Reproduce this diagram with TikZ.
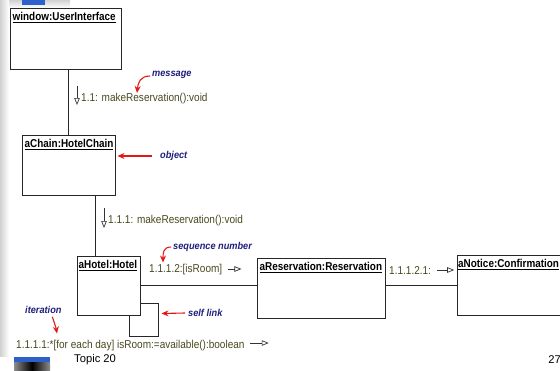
\documentclass[tikz,border=0pt]{standalone}
\usepackage{fontspec}
\setmainfont{Liberation Sans}
\newfontfamily\umlfont[FakeStretch=0.88]{Liberation Sans}
\newfontfamily\titlefont[FakeStretch=0.87]{Liberation Sans}
\newfontfamily\notefont[FakeStretch=0.92]{Liberation Sans}
\usetikzlibrary{calc, arrows.meta, positioning}
\definecolor{msgolive}{RGB}{72,72,30}
\definecolor{notenavy}{RGB}{30,30,125}
\definecolor{notered}{RGB}{225,25,25}
\definecolor{slideblue}{RGB}{45,95,205}

\tikzset{
  objbox/.style={draw=black!85, line width=1pt, fill=white, inner sep=0pt, minimum height=60pt},
  objname/.style={anchor=north west, inner sep=0pt, font=\titlefont\bfseries\fontsize{11.4}{13}\selectfont},
  msgtext/.style={anchor=west, inner sep=0pt, text=msgolive, font=\umlfont\fontsize{11.4}{13}\selectfont},
  msgarrow/.style={draw=black!80, line width=0.7pt, -{Triangle[open, length=7pt, width=5.5pt]}},
  notetext/.style={anchor=west, inner sep=0pt, text=notenavy, font=\notefont\bfseries\itshape\fontsize{10}{12}\selectfont},
  notearrow/.style={draw=notered, line width=1.1pt, -{Stealth[length=7pt, width=6pt]}},
  link/.style={draw=black!85, line width=1pt}
}

\begin{document}
\begin{tikzpicture}[x=1pt, y=-1pt]
    \useasboundingbox (0,0) rectangle (560,370);
    \clip (0,0) rectangle (560,370);
    \shade[top color=black!18, bottom color=white] (0,0) rectangle (70,8);
    \shade[left color=black!18, right color=white] (0,0) rectangle (9,356);
    \fill[slideblue] (22,0) rectangle (45,5);
    \fill[slideblue] (14,357) rectangle (50,362);
    \shade[left color=black!45, right color=black!45, middle color=black] (14,362) rectangle (50,370);

    \node[objbox, minimum width=111pt, minimum height=61pt] (window) at (65.5,38.5) {};
    \node[objname] (windowname) at ($(window.north west)+(3,5)$) {\underline{window:UserInterface}};

    \node[objbox, minimum width=93pt] (chain) at (68.5,165) {};
    \node[objname] (chainname) at ($(chain.north west)+(3,5)$) {\underline{aChain:HotelChain}};

    \node[objbox, minimum width=63pt, minimum height=59pt] (hotel) at (108.5,285.5) {};
    \node[objname] (hotelname) at ($(hotel.north west)+(2,5)$) {\underline{aHotel:Hotel}};

    \node[objbox, minimum width=128pt] (reservation) at (321,288) {};
    \node[objname] (reservationname) at ($(reservation.north west)+(3,5)$) {\underline{aReservation:Reservation}};

    \node[objbox, minimum width=118pt] (notice) at (516,285) {};
    \node[objname] (noticename) at ($(notice.north west)+(1.5,5)$) {\underline{aNotice:Confirmation}};

    \coordinate (drop) at (95,0);
    \draw[link] (window.south -| chain.north) -- (chain.north);
    \draw[link] (chain.south -| drop) -- (hotel.north -| drop);
    \draw[link] (hotel.east) -- (reservation.west |- hotel.east);
    \draw[link] (reservation.east |- notice.west) -- (notice.west);
    \draw[link] ($(hotel.south east)+(0,-12)$) -- ++(18,0) -- ++(0,33) -- ++(-29,0) -- ($(hotel.south east)+(-11,0)$);

    \node[msgtext] (m1) at (81,99) {1.1: makeReservation():void};
    \coordinate (m1a) at ($(m1.west)+(-4,-13)$);
    \coordinate (m1b) at ($(m1.west)+(-4,6)$);
    \draw[msgarrow] (m1a) -- (m1b);

    \node[msgtext] (m2) at (108,221) {1.1.1: makeReservation():void};
    \coordinate (m2a) at ($(m2.west)+(-4,-13)$);
    \coordinate (m2b) at ($(m2.west)+(-4,7)$);
    \draw[msgarrow] (m2a) -- (m2b);

    \node[msgtext] (m3) at (149,270) {1.1.1.2:[isRoom]};
    \coordinate (m3a) at ($(m3.east)+(6,-1)$);
    \coordinate (m3b) at ($(m3a)+(13,0)$);
    \draw[msgarrow] (m3a) -- (m3b);

    \node[msgtext] (m4) at (389,271) {1.1.1.2.1:};
    \coordinate (m4a) at ($(m4.east)+(6,-1)$);
    \coordinate (m4b) at ($(m4a)+(17,0)$);
    \draw[msgarrow] (m4a) -- (m4b);

    \node[msgtext] (m5) at (16,346) {1.1.1.1:*[for each day] isRoom:=available():boolean};
    \coordinate (m5a) at ($(m5.east)+(5,-3)$);
    \coordinate (m5b) at ($(m5a)+(19,0)$);
    \draw[msgarrow] (m5a) -- (m5b);

    \node[notetext] (msgnote) at (152,75) {message};
    \draw[notearrow] ($(msgnote.west)+(-2,1)$) .. controls +(-10,0) and +(1,-10) .. ($(m1.west)+(56,-6)$);

    \node[notetext] (objnote) at (160,156) {object};
    \draw[notearrow] ($(objnote.west)+(-8,0)$) -- ($(chain.east |- objnote.west)+(2,0)$);

    \node[notetext] (seqnote) at (173,247) {sequence number};
    \draw[notearrow] ($(seqnote.west)+(-2,0)$) .. controls +(-8,0) and +(0,-9) .. ($(m3.north west)+(14,-2)$);

    \node[notetext] (selfnote) at (188,313) {self link};
    \draw[notearrow] ($(selfnote.west)+(-3,0)$) -- ($(hotel.south east)+(21,-2)$);

    \node[notetext] (iternote) at (25,310) {iteration};
    \draw[notearrow] ($(iternote.south)+(9,3)$) .. controls +(2,6) and +(-1,-6) .. ($(m5.north west)+(41,-7)$);

    \node[anchor=west, inner sep=0pt, font=\fontsize{11.2}{13}\selectfont] (topic) at (74,360) {Topic 20};
    \node[anchor=east, inner sep=0pt, font=\fontsize{11.2}{13}\selectfont] (pagenum) at (561,360) {27};
\end{tikzpicture}
\end{document}
